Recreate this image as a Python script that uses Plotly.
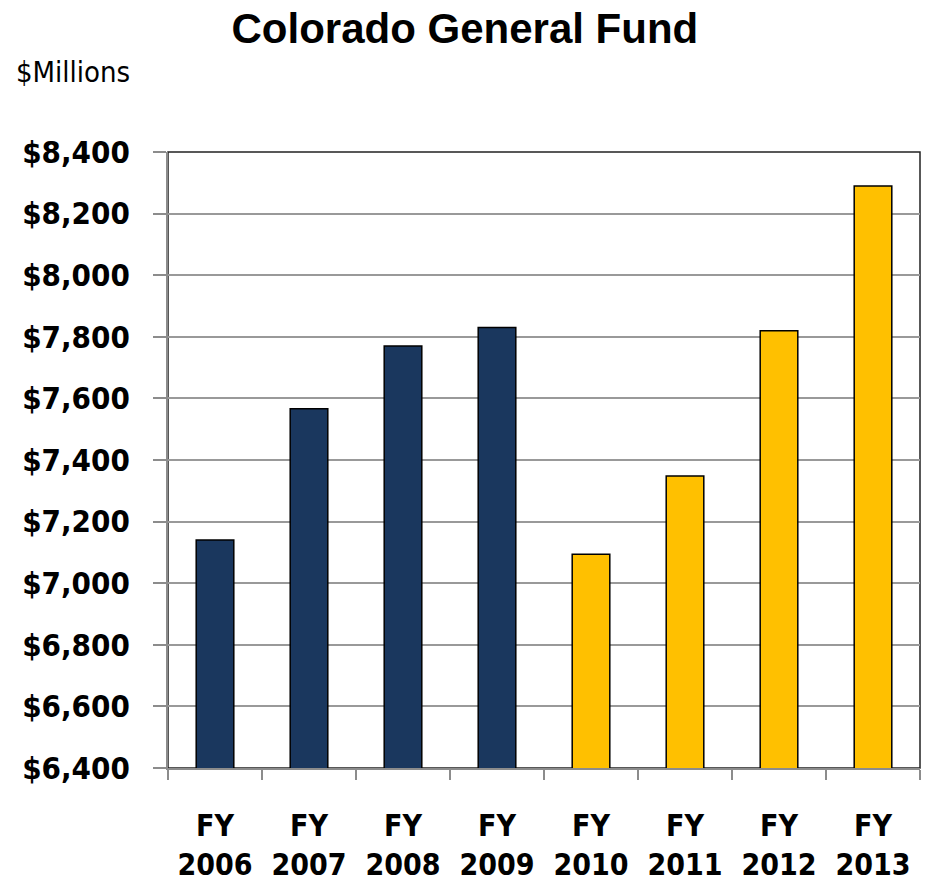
import plotly.graph_objects as go

# Colorado General Fund revenue by fiscal year ($ millions)
years = ["FY<br>2006", "FY<br>2007", "FY<br>2008", "FY<br>2009",
         "FY<br>2010", "FY<br>2011", "FY<br>2012", "FY<br>2013"]
revenue = [7140, 7566, 7770, 7830, 7094, 7348, 7820, 8290]
bar_colors = ["#1A375E"] * 4 + ["#FFC000"] * 4

y_ticks = [6400, 6600, 6800, 7000, 7200, 7400, 7600, 7800, 8000, 8200, 8400]
y_tick_text = ["$" + f"{v:,}" for v in y_ticks]

narrow = "DejaVu Sans Condensed, Liberation Sans Narrow, sans-serif"

fig = go.Figure(go.Bar(
    x=years,
    y=revenue,
    marker=dict(color=bar_colors, line=dict(color="#000000", width=1.5)),
    width=0.4,
))

fig.update_layout(
    width=926, height=883,
    margin=dict(l=168, r=6, t=152, b=115),
    paper_bgcolor="white",
    plot_bgcolor="white",
    showlegend=False,
    title=dict(
        text="<b>Colorado General Fund</b>",
        x=0.502, xanchor="center", y=0.968, yanchor="middle",
        font=dict(family="Liberation Sans, Arial, sans-serif", size=42, color="black"),
    ),
    annotations=[dict(
        text="$Millions", xref="paper", yref="paper",
        x=-0.205, y=1.13, xanchor="left", yanchor="middle",
        showarrow=False,
        font=dict(family=narrow, size=29, color="black"),
    )],
    shapes=[dict(
        type="rect", xref="paper", yref="paper", x0=0, x1=1, y0=0, y1=1,
        line=dict(color="#222222", width=1.5), layer="below",
    )],
)

fig.update_yaxes(
    range=[6400, 8400],
    tickvals=y_ticks, ticktext=y_tick_text,
    showgrid=True, gridcolor="#999999", gridwidth=2,
    showline=True, linecolor="#8C8C8C", linewidth=2,
    ticks="outside", ticklen=13, tickcolor="#8C8C8C", tickwidth=2,
    ticklabelstandoff=17,
    tickfont=dict(family=narrow, size=31, color="black", weight="bold"),
    zeroline=False,
    automargin=False,
)

fig.update_xaxes(
    tickson="boundaries",
    showline=True, linecolor="#8C8C8C", linewidth=2,
    ticks="outside", ticklen=10, tickcolor="#8C8C8C", tickwidth=2,
    ticklabelstandoff=30,
    tickfont=dict(family=narrow, size=30, color="black", weight="bold"),
    showgrid=False,
    automargin=False,
)

fig.write_html("out.html")
